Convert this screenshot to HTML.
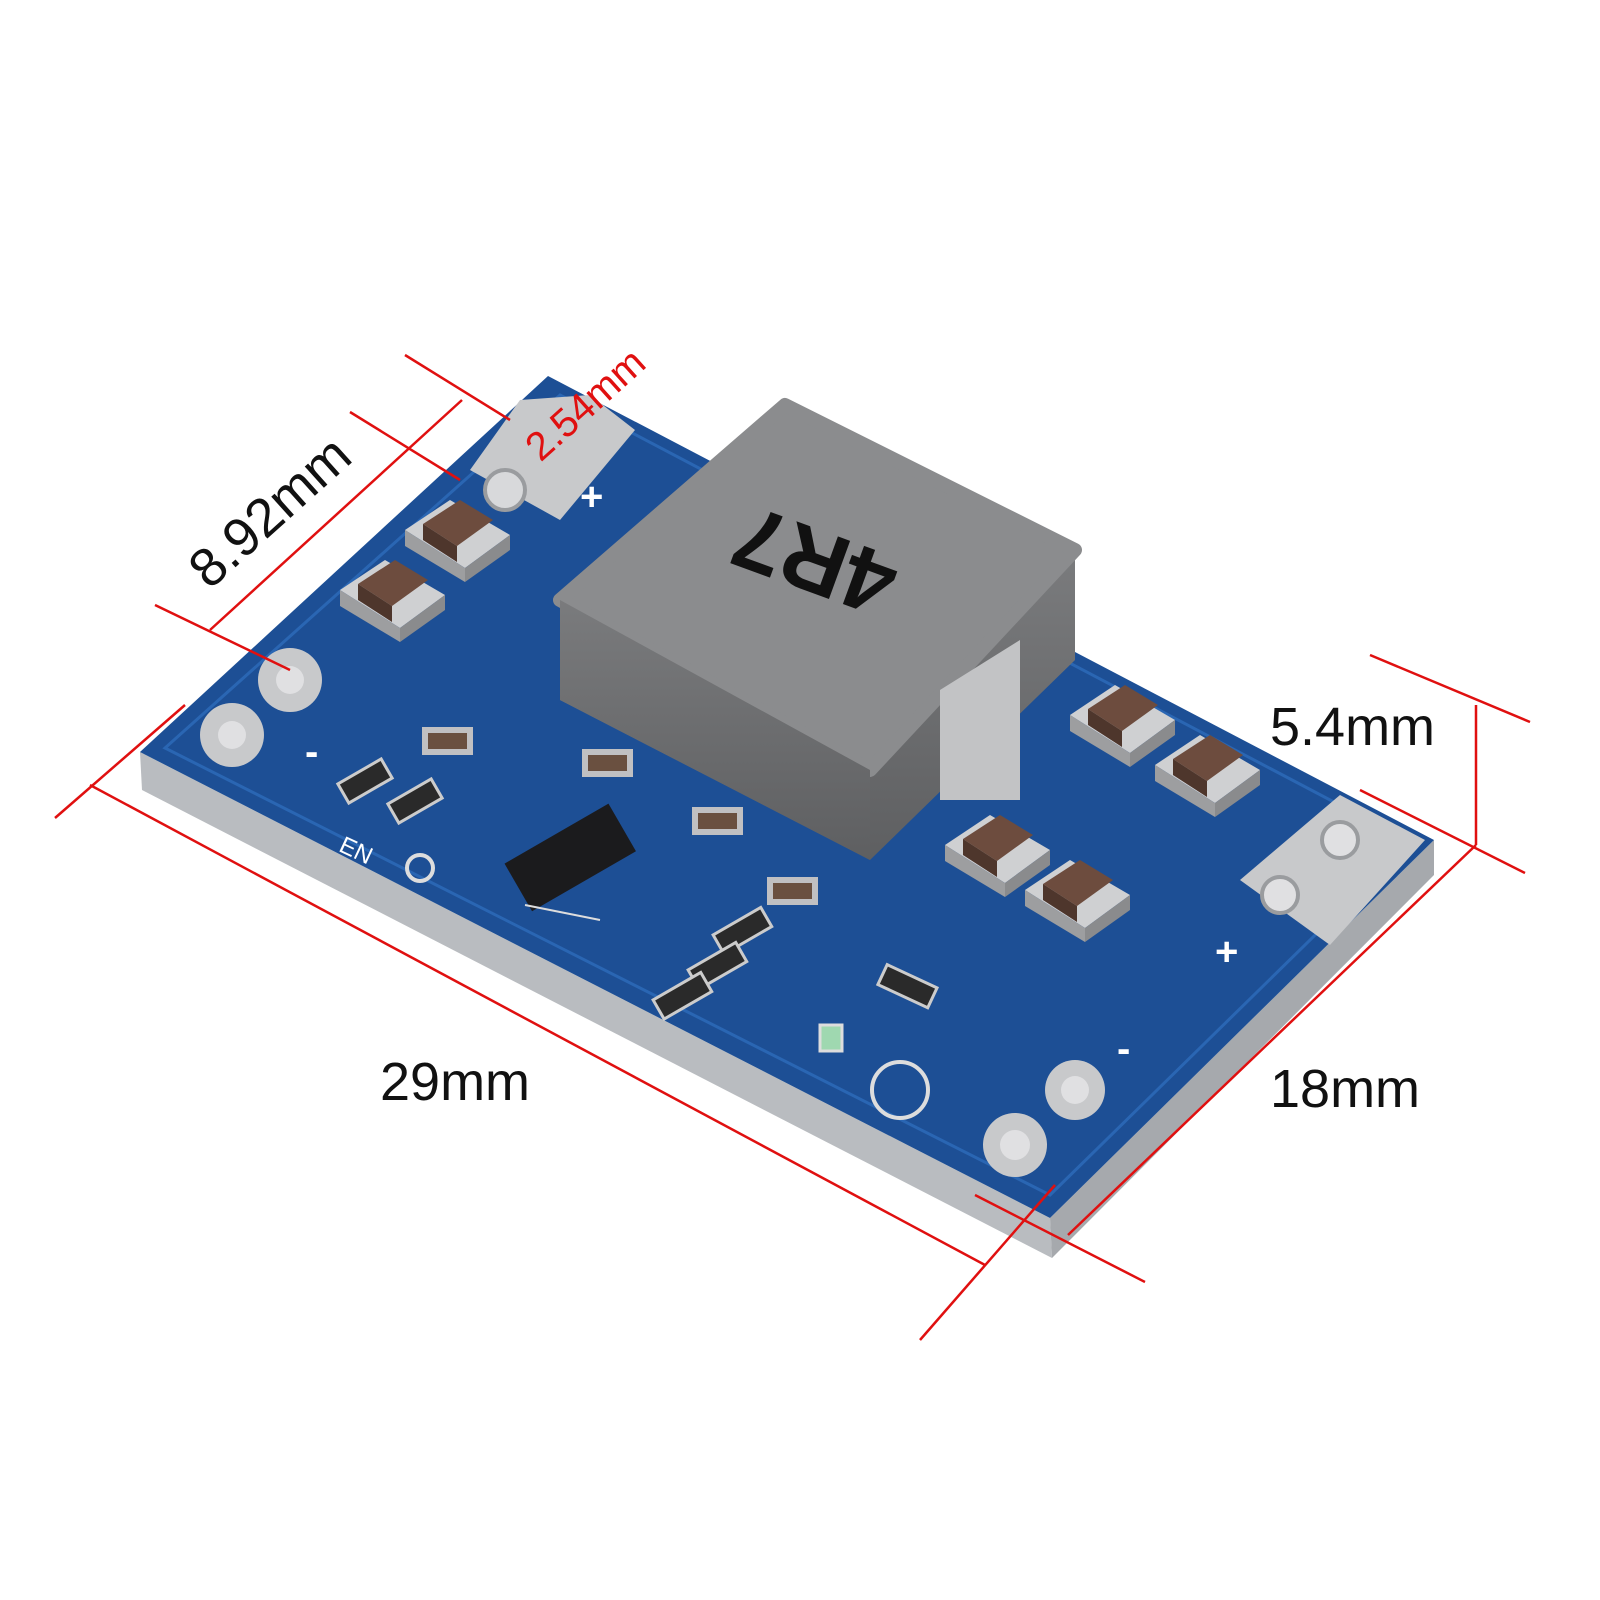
<!DOCTYPE html>
<html><head><meta charset="utf-8"><style>
html,body{margin:0;padding:0;background:#fff}
svg{display:block}
text{font-family:"Liberation Sans",sans-serif}
</style></head><body>
<svg width="1600" height="1600" viewBox="0 0 1600 1600" xmlns="http://www.w3.org/2000/svg">
<defs>
<linearGradient id="ind" x1="0" y1="0" x2="0" y2="1"><stop offset="0" stop-color="#7a7b7d"/><stop offset="1" stop-color="#5e5f61"/></linearGradient>
<g id="cap">
<polygon points="0,30 45,0 105,35 60,68" fill="#cfd0d2"/>
<polygon points="0,30 60,68 60,82 0,46" fill="#9d9ea0"/>
<polygon points="60,68 105,35 105,50 60,82" fill="#8a8b8d"/>
<polygon points="18,24 55,0 88,20 52,46" fill="#6d4c3e"/>
<polygon points="18,24 52,46 52,62 18,40" fill="#4e362c"/>
</g>
</defs>
<rect width="1600" height="1600" fill="#fff"/>
<!-- board side faces -->
<polygon points="140,752 1050,1218 1052,1258 142,790" fill="#b9bcc0"/>
<polygon points="1050,1218 1434,840 1434,875 1052,1258" fill="#a6a9ad"/>
<!-- board top -->
<polygon points="548,376 1434,840 1050,1218 140,752" fill="#1d4f95"/>
<polygon points="560,395 1410,842 1050,1195 165,748" fill="none" stroke="#2a66b3" stroke-width="3"/>
<!-- pads left top -->
<polygon points="520,400 590,395 635,430 560,520 470,470" fill="#c8c9cb"/>
<circle cx="505" cy="490" r="20" fill="#d8d9db" stroke="#9a9c9f" stroke-width="4"/>
<circle cx="290" cy="680" r="32" fill="#c8c9cb"/><circle cx="290" cy="680" r="14" fill="#e0e0e2"/>
<circle cx="232" cy="735" r="32" fill="#c8c9cb"/><circle cx="232" cy="735" r="14" fill="#e0e0e2"/>
<!-- pads right -->
<polygon points="1240,880 1340,795 1425,840 1330,945" fill="#c8c9cb"/>
<circle cx="1340" cy="840" r="18" fill="#e0e0e2" stroke="#9a9c9f" stroke-width="4"/>
<circle cx="1280" cy="895" r="18" fill="#e0e0e2" stroke="#9a9c9f" stroke-width="4"/>
<circle cx="1075" cy="1090" r="30" fill="#c8c9cb"/><circle cx="1075" cy="1090" r="14" fill="#e0e0e2"/>
<circle cx="1015" cy="1145" r="32" fill="#c8c9cb"/><circle cx="1015" cy="1145" r="15" fill="#e0e0e2"/>
<!-- +/- -->
<text x="580" y="510" font-size="40" fill="#fff" font-weight="bold">+</text>
<text x="1215" y="965" font-size="40" fill="#fff" font-weight="bold">+</text>
<text x="305" y="765" font-size="40" fill="#fff" font-weight="bold">-</text>
<text x="1117" y="1062" font-size="40" fill="#fff" font-weight="bold">-</text>
<text x="340" y="860" font-size="24" fill="#fff" transform="rotate(25 360 850)">EN</text>
<circle cx="420" cy="868" r="13" fill="none" stroke="#ddd" stroke-width="4"/>
<circle cx="900" cy="1090" r="28" fill="none" stroke="#ddd" stroke-width="4"/>
<!-- capacitors -->
<use href="#cap" x="405" y="500"/>
<use href="#cap" x="340" y="560"/>
<use href="#cap" x="1070" y="685"/>
<use href="#cap" x="1155" y="735"/>
<use href="#cap" x="945" y="815"/>
<use href="#cap" x="1025" y="860"/>
<!-- small parts -->
<rect x="510" y="830" width="120" height="55" fill="#1b1b1d" transform="rotate(-30 570 857)"/>
<g stroke="#ddd" stroke-width="2"><line x1="525" y1="905" x2="600" y2="920"/></g>
<g fill="#2a2a2a" stroke="#ccc" stroke-width="3">
<rect x="340" y="770" width="50" height="22" transform="rotate(-30 365 781)"/>
<rect x="390" y="790" width="50" height="22" transform="rotate(-30 415 801)"/>
<rect x="715" y="920" width="55" height="22" transform="rotate(-30 742 931)"/>
<rect x="690" y="955" width="55" height="22" transform="rotate(-30 717 966)"/>
<rect x="655" y="985" width="55" height="22" transform="rotate(-30 682 996)"/>
<rect x="880" y="975" width="55" height="22" transform="rotate(25 907 986)"/>
</g>
<g fill="#6a5040" stroke="#c0c0c2" stroke-width="6">
<rect x="425" y="730" width="45" height="22"/>
<rect x="585" y="752" width="45" height="22"/>
<rect x="695" y="810" width="45" height="22"/>
<rect x="770" y="880" width="45" height="22"/>
</g>
<rect x="820" y="1025" width="22" height="26" fill="#9fd8b0" stroke="#ddd" stroke-width="3"/>
<!-- inductor -->
<polygon points="560,600 560,700 870,860 1075,660 1075,555" fill="url(#ind)"/>
<polygon points="560,600 785,405 1075,550 870,770" fill="#8b8c8e" stroke="#8b8c8e" stroke-width="14" stroke-linejoin="round"/>
<polygon points="560,600 870,770 870,860 560,700" fill="url(#ind)"/>
<polygon points="940,690 1020,640 1020,800 940,800" fill="#c2c3c5"/>
<text x="815" y="590" font-size="90" font-weight="bold" fill="#111" text-anchor="middle" transform="rotate(200 815 560)">4R7</text>
<!-- red dimension lines -->
<g stroke="#e01010" stroke-width="2.5" fill="none">
<line x1="90" y1="785" x2="985" y2="1265"/>
<line x1="55" y1="818" x2="185" y2="705"/>
<line x1="920" y1="1340" x2="1055" y2="1185"/>
<line x1="1068" y1="1235" x2="1476" y2="845"/>
<line x1="1360" y1="790" x2="1525" y2="873"/>
<line x1="975" y1="1195" x2="1145" y2="1282"/>
<line x1="1476" y1="705" x2="1476" y2="845"/>
<line x1="1370" y1="655" x2="1530" y2="722"/>
<line x1="210" y1="630" x2="462" y2="400"/>
<line x1="155" y1="605" x2="290" y2="670"/>
<line x1="350" y1="412" x2="460" y2="480"/>
<line x1="405" y1="355" x2="510" y2="420"/>
</g>
<!-- labels -->
<g font-size="54" fill="#111">
<text x="380" y="1100">29mm</text>
<text x="1270" y="1107">18mm</text>
<text x="1270" y="745">5.4mm</text>
<text x="270" y="530" text-anchor="middle" transform="rotate(-42 270 512)">8.92mm</text>
</g>
<text x="585" y="418" font-size="40" fill="#e01010" text-anchor="middle" transform="rotate(-42 585 404)">2.54mm</text>
</svg>
</body></html>
